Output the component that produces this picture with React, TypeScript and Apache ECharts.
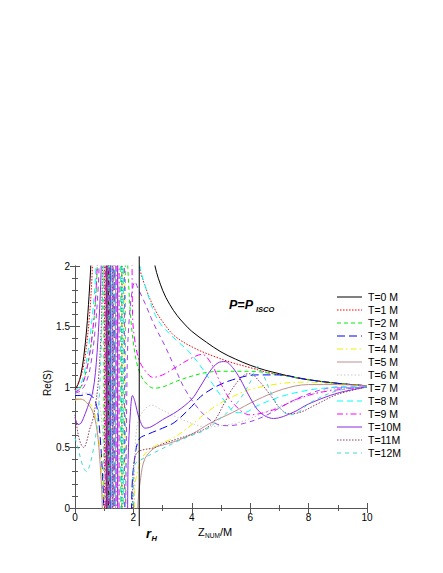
import React, { useEffect, useRef } from "react";
import * as echarts from "echarts";

// ---- data: [Z_NUM/M, Re(S)] ----
const legendNames = ["T=0 M", "T=1 M", "T=2 M", "T=3 M", "T=4 M", "T=5 M", "T=6 M", "T=7 M", "T=8 M", "T=9 M", "T=10M", "T=11M", "T=12M"];

const t0 = [[0,0.98],[0.1,1.02],[0.2,1.1],[0.3,1.25],[0.4,1.48],[0.48,1.75],[0.55,2.05],[0.62,2.5],[1.06,3],[1.08,-1],[1.14,-1],[1.16,3],[2.45,2.8],[2.6,2.25],[2.74,2.0],[3.0,1.8],[3.25,1.68],[3.5,1.59],[3.75,1.52],[4.0,1.46],[4.5,1.37],[5.0,1.29],[5.5,1.23],[6.0,1.18],[6.5,1.14],[7.0,1.11],[7.5,1.08],[8.0,1.06],[9.0,1.03],[10,1.01]];
const t1 = [[0,0.98],[0.15,1.05],[0.3,1.18],[0.4,1.35],[0.5,1.6],[0.58,1.9],[0.65,2.3],[1.0,3],[1.02,-1],[1.09,-1],[1.11,3],[2.1,3],[2.2,2.02],[2.45,1.8],[2.74,1.64],[3.0,1.54],[3.42,1.42],[4.1,1.32],[4.8,1.25],[5.4,1.2],[6.0,1.16],[6.6,1.12],[7.3,1.09],[8.0,1.06],[9.0,1.03],[10,1.01]];
const t2 = [[0,0.95],[0.2,1.0],[0.4,1.15],[0.55,1.35],[0.7,1.7],[0.8,2.2],[0.98,3],[1.0,-1],[1.17,-1],[1.19,3],[1.45,3],[1.47,-1],[1.58,-1],[1.62,3],[1.75,2.3],[1.9,1.6],[2.05,1.28],[2.2,1.13],[2.4,1.04],[2.7,0.99],[3.0,1.0],[3.5,1.05],[4.0,1.09],[4.5,1.12],[5.0,1.13],[6.0,1.13],[7.0,1.1],[8.0,1.06],[9.0,1.03],[10,1.01]];
const t3 = [[0,0.93],[0.2,0.93],[0.4,0.94],[0.55,0.93],[0.7,0.88],[0.8,0.75],[0.9,0.45],[0.97,0.1],[1.02,-0.5],[1.22,-1],[1.24,3],[1.33,3],[1.35,-1],[1.88,-1],[1.95,0.15],[2.05,0.42],[2.2,0.57],[2.5,0.61],[3.0,0.66],[3.42,0.71],[4.0,0.84],[4.3,0.92],[4.8,1.0],[5.4,1.06],[6.2,1.1],[7.0,1.1],[8.0,1.06],[9.0,1.03],[10,1.01]];
const t4 = [[0,0.89],[0.2,0.9],[0.4,0.88],[0.55,0.85],[0.7,0.76],[0.8,0.62],[0.88,0.4],[0.95,0.1],[1.0,-0.5],[1.1,-1],[1.12,3],[1.2,3],[1.22,-1],[1.6,-1],[1.62,3],[1.7,3],[1.72,-1],[1.95,-1],[2.05,0.17],[2.2,0.35],[2.4,0.45],[2.8,0.52],[3.3,0.57],[3.8,0.65],[4.3,0.75],[4.8,0.84],[5.4,0.92],[6.0,0.98],[7.1,1.03],[8.0,1.04],[9.0,1.02],[10,1.01]];
const t5 = [[0,0.9],[0.2,0.9],[0.4,0.87],[0.6,0.8],[0.75,0.65],[0.85,0.4],[0.93,0.05],[0.98,-0.5],[1.28,-1],[1.3,3],[1.38,3],[1.4,-1],[2.05,-1],[2.15,0.0],[2.25,0.25],[2.4,0.41],[2.74,0.5],[3.0,0.52],[3.42,0.55],[4.0,0.61],[4.62,0.7],[5.4,0.79],[6.2,0.89],[7.1,0.98],[8.0,1.02],[9.0,1.02],[10,1.01]];
const t6 = [[0,0.94],[0.2,0.95],[0.4,0.95],[0.6,0.95],[0.75,0.93],[0.85,0.85],[0.95,0.6],[1.02,0.1],[1.06,-1],[1.24,-1],[1.26,3],[1.5,3],[1.52,-1],[1.95,-1],[2.05,0.4],[2.15,0.71],[2.4,0.82],[2.64,0.85],[2.9,0.82],[3.4,0.76],[4.1,0.69],[4.5,0.67],[5.0,0.68],[5.5,0.7],[6.0,0.74],[7.0,0.84],[7.5,0.88],[8.0,0.93],[9.0,0.99],[10,1.0]];
const t7 = [[0,0.95],[0.2,0.97],[0.4,1.05],[0.55,1.2],[0.7,1.5],[0.8,1.85],[0.88,2.3],[1.2,3],[1.22,-1],[1.3,-1],[1.32,3],[1.68,3],[1.7,-1],[1.72,-1],[1.76,0.6],[1.8,1.3],[1.87,1.6],[1.95,1.78],[2.05,1.87],[2.15,1.82],[2.4,1.69],[2.7,1.52],[3.08,1.34],[3.4,1.17],[3.77,0.98],[4.3,0.8],[4.8,0.7],[5.2,0.68],[5.8,0.7],[6.5,0.76],[7.4,0.88],[8.2,0.96],[9.0,1.0],[10,1.0]];
const t8 = [[0,0.97],[0.15,1.0],[0.3,1.1],[0.45,1.3],[0.6,1.6],[0.7,1.9],[0.78,2.3],[1.14,3],[1.16,-1],[1.26,-1],[1.28,3],[1.55,3],[1.57,-1],[1.65,-1],[1.67,3],[2.2,2.02],[2.45,1.8],[2.74,1.6],[3.0,1.5],[3.5,1.38],[3.87,1.3],[4.28,1.18],[4.73,1.02],[5.2,0.86],[5.5,0.79],[5.8,0.79],[6.2,0.84],[6.8,0.9],[7.5,0.95],[8.5,0.99],[10,1.0]];
const t9 = [[0,0.96],[0.15,0.98],[0.3,1.05],[0.45,1.2],[0.6,1.45],[0.72,1.8],[0.82,2.3],[1.04,3],[1.06,-1],[1.16,-1],[1.18,3],[1.4,3],[1.42,-1],[1.5,-1],[1.52,3],[1.93,3],[1.97,1.6],[2.05,1.38],[2.2,1.22],[2.45,1.12],[2.67,1.08],[3.0,1.1],[3.5,1.17],[4.0,1.24],[4.35,1.27],[4.7,1.18],[4.97,1.04],[5.4,0.87],[6.0,0.77],[6.5,0.79],[7.0,0.83],[7.6,0.9],[8.5,0.96],[10,1.0]];
const t10 = [[0,0.75],[0.1,0.69],[0.2,0.7],[0.35,0.78],[0.5,0.88],[0.6,0.95],[0.7,1.12],[0.8,1.45],[0.88,1.85],[0.93,2.3],[1.1,3],[1.12,-1],[1.2,-1],[1.22,3],[1.45,3],[1.47,-1],[1.75,-1],[1.82,0.4],[1.9,0.8],[1.97,0.93],[2.05,0.88],[2.2,0.74],[2.4,0.66],[2.6,0.67],[3.0,0.73],[3.5,0.8],[4.0,0.9],[4.28,1.0],[4.62,1.13],[4.9,1.2],[5.14,1.21],[5.4,1.16],[5.65,1.07],[6.0,0.91],[6.34,0.79],[6.8,0.74],[7.47,0.79],[8.0,0.86],[9.0,0.95],[10,1.0]];
const t11 = [[0,0.77],[0.1,0.62],[0.2,0.53],[0.3,0.5],[0.4,0.55],[0.5,0.65],[0.6,0.72],[0.7,0.85],[0.8,1.05],[0.9,1.5],[0.97,2.2],[1.15,3],[1.17,-1],[1.28,-1],[1.3,3],[1.6,3],[1.62,-1],[1.9,-1],[1.98,0.2],[2.05,0.42],[2.2,0.47],[2.74,0.5],[3.0,0.53],[3.5,0.57],[4.0,0.61],[4.5,0.66],[4.8,0.73],[5.1,0.86],[5.4,0.99],[5.8,1.1],[6.0,1.11],[6.3,1.05],[6.7,0.93],[7.0,0.83],[7.3,0.78],[7.7,0.79],[8.3,0.86],[9.0,0.94],[10,1.0]];
const t12 = [[0,0.58],[0.1,0.5],[0.2,0.4],[0.3,0.33],[0.4,0.3],[0.5,0.35],[0.6,0.45],[0.7,0.58],[0.8,0.8],[0.88,1.2],[0.95,1.8],[1.0,2.4],[1.24,3],[1.26,-1],[1.36,-1],[1.38,3],[1.72,3],[1.74,-1],[1.95,-1],[2.0,0.2],[2.05,0.36],[2.2,0.39],[2.74,0.46],[3.5,0.55],[4.0,0.6],[4.5,0.65],[4.97,0.74],[5.4,0.83],[5.65,0.9],[6.0,1.04],[6.27,1.17],[6.45,1.1],[6.7,0.96],[7.0,0.83],[7.36,0.77],[7.7,0.8],[8.05,0.87],[9.0,0.97],[10,1.0]];

const curves = [t0, t1, t2, t3, t4, t5, t6, t7, t8, t9, t10, t11, t12];

// horizon marker r_H (vertical line extends past the frame)
const horizonZ = 2.2;
const horizonSpan = [2.08, -0.15];

const yTickLabels = ["0", "0.5", "1", "1.5", "2"];

// ---- styles ----
const colors = ["#000000", "#ff0000", "#00ee00", "#0000ff", "#f0f000", "#bc8f8f", "#c8c8c8", "#a040f0", "#00ffff", "#ff00ff", "#8a2be2", "#8b3a62", "#40d8d0"];
const dashes: any[] = [null, [1.5, 1.5], [4, 3], [8, 4], [6, 3, 1.5, 3], null, [1.5, 2], [5, 4], [6, 4], [6, 3, 1.5, 3], null, [1.5, 1.5], [4, 4]];

const FONT = "'Liberation Sans', Arial, Helvetica, sans-serif";

// legend layout (pixels)
const LEG_X1 = 337;
const LEG_X2 = 362;
const LEG_TEXT_X = 368;
const LEG_Y0 = 297;
const LEG_DY = 13;

export default function App() {
  const ref = useRef<HTMLDivElement>(null);
  useEffect(() => {
    if (!ref.current) return;
    const chart = echarts.init(ref.current, null, { renderer: "svg" });
    const axisLine = { show: true, lineStyle: { color: "#555", width: 1 } };
    const hiddenLabel = { show: false };
    const xBase = {
      type: "value", min: 0, max: 10, interval: 2,
      axisLine, splitLine: { show: false },
      axisTick: { show: true, inside: true, length: 5, lineStyle: { color: "#555" } },
      minorTick: { show: true, splitNumber: 2, length: 3, lineStyle: { color: "#555" } },
    };
    const yBase = {
      type: "value", min: 0, max: 2, interval: 0.5,
      axisLine, splitLine: { show: false },
      axisTick: { show: true, inside: true, length: 5, lineStyle: { color: "#555" } },
      minorTick: { show: true, splitNumber: 5, length: 3, lineStyle: { color: "#555" } },
    };
    const series: any[] = curves.map((data, i) => ({
      name: legendNames[i],
      type: "line",
      data,
      smooth: 0.35,
      symbol: "none",
      showSymbol: false,
      clip: true,
      lineStyle: { color: colors[i], width: 1, type: dashes[i] ?? "solid" },
      itemStyle: { color: colors[i] },
      emphasis: { disabled: true },
    }));
    series.push({
      name: "rH",
      type: "line",
      data: [[horizonZ, horizonSpan[0]], [horizonZ, horizonSpan[1]]],
      symbol: "none",
      clip: false,
      silent: true,
      lineStyle: { color: "#000", width: 1 },
      z: 5,
    });

    const legendGraphics: any[] = [];
    legendNames.forEach((name, i) => {
      const y = LEG_Y0 + LEG_DY * i;
      legendGraphics.push({
        type: "line",
        silent: true,
        shape: { x1: LEG_X1, y1: y, x2: LEG_X2, y2: y },
        style: { stroke: colors[i], lineWidth: 1, lineDash: dashes[i] ?? null },
        z: 100,
      });
      legendGraphics.push({
        type: "text",
        silent: true,
        x: LEG_TEXT_X,
        y,
        style: { text: name, fontSize: 10.5, fontFamily: FONT, fill: "#000", align: "left", verticalAlign: "middle" },
        z: 100,
      });
    });

    chart.setOption({
      animation: false,
      backgroundColor: "#fff",
      textStyle: { fontFamily: FONT },
      grid: { left: 75, right: 76, top: 266, bottom: 65, containLabel: false },
      xAxis: [
        { ...xBase, position: "bottom", axisLabel: { fontSize: 10, color: "#000", fontFamily: FONT, margin: 4 } },
        { ...xBase, position: "top", axisLabel: hiddenLabel },
      ],
      yAxis: [
        { ...yBase, position: "left", axisLabel: { fontSize: 10, color: "#000", fontFamily: FONT, margin: 5, formatter: (v: number) => yTickLabels[Math.round(v * 2)] ?? String(v) } },
        { ...yBase, position: "right", axisLabel: hiddenLabel },
      ],
      series,
      graphic: [
        ...legendGraphics,
        { type: "text", x: 47, y: 383, rotation: Math.PI / 2, style: { text: "Re(S)", fontSize: 10, fontFamily: FONT, fill: "#000", align: "center", verticalAlign: "middle" } },
        { type: "text", x: 198, y: 532, style: { text: "Z", fontSize: 11, fontFamily: FONT, fill: "#000", align: "left", verticalAlign: "middle" } },
        { type: "text", x: 205, y: 535, style: { text: "NUM", fontSize: 6.5, fontFamily: FONT, fill: "#000", align: "left", verticalAlign: "middle" } },
        { type: "text", x: 220, y: 532, style: { text: "/M", fontSize: 11, fontFamily: FONT, fill: "#000", align: "left", verticalAlign: "middle" } },
        { type: "text", x: 229, y: 305, style: { text: "P=P", fontSize: 12.5, fontWeight: "bold", fontStyle: "italic", fontFamily: FONT, fill: "#000", align: "left", verticalAlign: "middle" } },
        { type: "text", x: 256, y: 309.5, style: { text: "ISCO", fontSize: 7.5, fontWeight: "bold", fontStyle: "italic", fontFamily: FONT, fill: "#000", align: "left", verticalAlign: "middle" } },
        { type: "text", x: 146, y: 533, style: { text: "r", fontSize: 13, fontWeight: "bold", fontStyle: "italic", fontFamily: FONT, fill: "#000", align: "left", verticalAlign: "middle" } },
        { type: "text", x: 151.5, y: 538, style: { text: "H", fontSize: 7.5, fontWeight: "bold", fontStyle: "italic", fontFamily: FONT, fill: "#000", align: "left", verticalAlign: "middle" } },
      ],
    });
    return () => chart.dispose();
  }, []);
  return (
    <div
      ref={ref}
      style={{ position: "absolute", left: 0, top: 0, width: 443, height: 573, background: "#fff" }}
    />
  );
}
